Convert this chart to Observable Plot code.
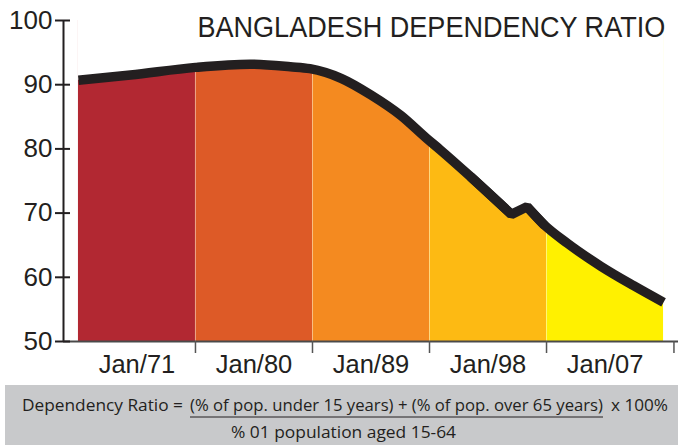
<!DOCTYPE html>
<html>
<head>
<meta charset="utf-8">
<script src="https://cdn.jsdelivr.net/npm/d3@7"></script>
<script src="https://cdn.jsdelivr.net/npm/@observablehq/plot@0.6"></script>
<style>
  body { margin: 0; background: #fff; }
  #chart { width: 678px; }
  #chart svg { display: block; }
</style>
</head>
<body>
<div id="chart"></div>
<script>
// ---- data ----
const years = [1971, 1975, 1980, 1984.2, 1987.3, 1988.8, 1991.2, 1993.5, 1995.8, 1997.8, 1998.8, 2001.2, 2004.3, 2005.5, 2006.8, 2008.6, 2011.2, 2013.7, 2016];
const ratio = [90.7, 91.5, 92.7, 93.2, 92.8, 92.5, 91.0, 88.4, 85.2, 81.6, 79.9, 75.6, 69.8, 71.0, 68.2, 65.3, 61.7, 58.7, 56.1];
const dipIndex = 12;   // sharp dip
const peakIndex = 13;  // sharp rebound

const bandLabels = ["Jan/71", "Jan/80", "Jan/89", "Jan/98", "Jan/07"];
const bandStart  = [1971, 1980, 1989, 1998, 2007];
const bandEnd    = [1980, 1989, 1998, 2007, 2016];
const bandColors = ["#b22832", "#dd5a27", "#f48a20", "#fdba13", "#fff100"];

const yTicks = [50, 60, 70, 80, 90, 100];
const xTickYears = [1980, 1989, 1998, 2007, 2016.8];
const xAxisStart = 1969.85, xAxisEnd = 2017.15;

const titleText = "BANGLADESH DEPENDENCY RATIO";
const captionLeft = "Dependency Ratio =";
const captionNum = "(% of pop. under 15 years) + (% of pop. over 65 years)";
const captionRight = "x 100%";
const captionDen = "% 01 population aged 15-64";

// ---- derived tables ----
const rows = years.map((year, i) => ({year, value: ratio[i]}));
const segA = rows.slice(0, dipIndex + 1);
const segB = rows.slice(dipIndex - 1, peakIndex + 2);
const segC = rows.slice(peakIndex);
const bands = bandLabels.map((label, i) => ({
  label, start: bandStart[i], end: bandEnd[i], mid: (bandStart[i] + bandEnd[i]) / 2, color: bandColors[i]
}));
const interiorEdges = bandStart.slice(1);

const ink = "#231f20";
const lineStyle = {x: "year", y: "value", stroke: ink, strokeWidth: 9.5};

const plot = Plot.plot({
  width: 678,
  height: 384,
  marginLeft: 63,
  marginRight: 0,
  marginTop: 20,
  marginBottom: 43,
  x: {domain: [xAxisStart, xAxisEnd], label: null},
  y: {domain: [50, 100], label: null},
  style: {fontFamily: "'Liberation Sans', Arial, sans-serif", background: "white", color: ink},
  marks: [
    Plot.rectY(bands, {x1: "start", x2: "end", y1: 50, y2: 100, fill: "color"}),
    Plot.ruleX(interiorEdges, {x: d => d, y1: 50, y2: 100, stroke: "white", strokeOpacity: 0.45, strokeWidth: 1}),
    Plot.areaY(rows, {x: "year", y1: "value", y2: 101, fill: "white", curve: "linear"}),
    Plot.line(segA, {...lineStyle, curve: "monotone-x", strokeLinecap: "butt", strokeLinejoin: "round"}),
    Plot.line(segC, {...lineStyle, curve: "monotone-x", strokeLinecap: "butt", strokeLinejoin: "round"}),
    Plot.line(segB, {...lineStyle, curve: "linear", strokeLinecap: "round", strokeLinejoin: "miter"}),
    Plot.ruleX([xAxisStart], {y1: 50, y2: 100, stroke: ink, strokeWidth: 2}),
    Plot.ruleY([50], {x1: xAxisStart, x2: xAxisEnd, stroke: "#4a4a4a", strokeWidth: 2}),
    Plot.axisY(yTicks, {tickSize: 15, dx: 7, tickFormat: () => "", stroke: ink, strokeWidth: 2, label: null}),
    Plot.axisY(yTicks, {tickSize: 0, tickPadding: 11, fontSize: 26, fill: ink, label: null}),
    Plot.axisX(xTickYears, {tickSize: 12, tickFormat: () => "", stroke: "#555", strokeWidth: 1.5, label: null}),
    Plot.text(bands, {x: "mid", y: 50, text: "label", lineAnchor: "top", dy: 13, fontSize: 25.5, fill: ink}),
    Plot.text([titleText], {frameAnchor: "top-left", dx: 134, dy: -4.5, lineAnchor: "top", textAnchor: "start",
      fontSize: 30, fill: ink, fontFamily: "'Liberation Sans Narrow', 'Liberation Sans', Arial, sans-serif"})
  ]
});

document.getElementById("chart").appendChild(plot);

// condense the title horizontally to the reference width (468 px)
for (const t of plot.querySelectorAll("text")) {
  if (t.textContent === titleText) {
    const b = t.getBBox();
    const s = 468 / b.width;
    const prev = t.getAttribute("transform") || "";
    t.setAttribute("transform", `${prev} translate(${b.x},0) scale(${s},1) translate(${-b.x},0)`);
  }
}

// ---- caption (formula box below the chart) ----
const cap = d3.create("svg").attr("width", 678).attr("height", 61)
  .style("font-family", "'Open Sans', 'Noto Sans', sans-serif").style("font-size", "16px").attr("fill", ink);
cap.append("rect").attr("x", 5).attr("y", 1).attr("width", 673).attr("height", 60).attr("fill", "#c8c9cb");
const fit = (sel, x, y, len) => sel.attr("x", x).attr("y", y).attr("textLength", len).attr("lengthAdjust", "spacingAndGlyphs");
fit(cap.append("text").text(captionLeft), 22, 27, 161);
fit(cap.append("text").text(captionNum), 190, 27, 413);
fit(cap.append("text").text(captionRight), 611, 27, 57);
cap.append("line").attr("x1", 190).attr("x2", 603).attr("y1", 33).attr("y2", 33).attr("stroke", ink).attr("stroke-width", 1);
fit(cap.append("text").text(captionDen), 231, 54, 225);
document.getElementById("chart").appendChild(cap.node());
</script>
</body>
</html>
